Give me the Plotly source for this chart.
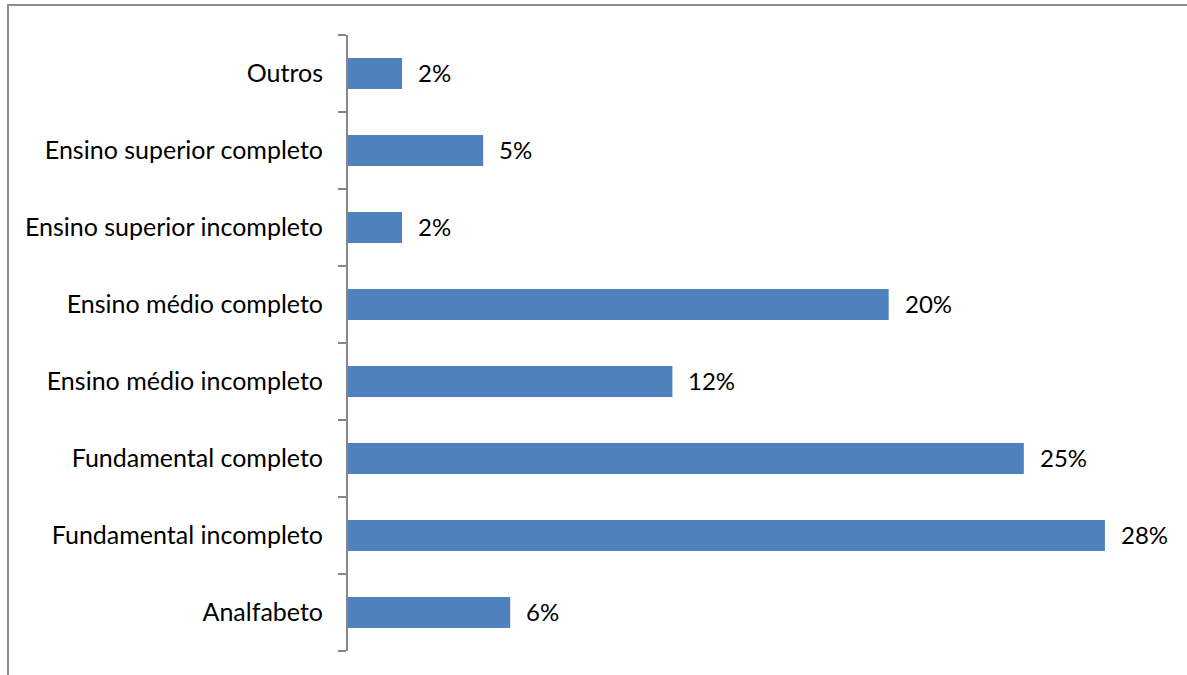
import plotly.graph_objects as go

# Escolaridade (de baixo para cima)
categorias = [
    "Analfabeto",
    "Fundamental incompleto",
    "Fundamental completo",
    "Ensino médio incompleto",
    "Ensino médio completo",
    "Ensino superior incompleto",
    "Ensino superior completo",
    "Outros",
]
percentuais = [6, 28, 25, 12, 20, 2, 5, 2]
rotulos = [f"{v}%" for v in percentuais]

FONT = "Lato"
AXIS_GRAY = "#868686"

fig = go.Figure(
    go.Bar(
        x=percentuais,
        y=categorias,
        orientation="h",
        marker=dict(color="#4F81BD", line=dict(width=0)),
        hoverinfo="skip",
    )
)

# Value labels to the right of each bar
for cat, val, txt in zip(categorias, percentuais, rotulos):
    fig.add_annotation(
        x=val, y=cat, text=txt, showarrow=False,
        xanchor="left", xshift=14, yshift=1,
        font=dict(family=FONT, size=24, color="#000000", weight=400),
    )

W, H = 1187, 675
L, R, T, B = 348, 28, 35, 24
pw, ph = W - L - R, H - T - B

# Outer frame of the chart
fig.add_shape(
    type="rect", xref="paper", yref="paper",
    x0=(8 - L) / pw, x1=(W + 5 - L) / pw,
    y0=-(B + 10) / ph, y1=1 + (T - 5) / ph,
    line=dict(color="#8c8c8c", width=2),
    fillcolor="rgba(0,0,0,0)", layer="below",
)

fig.update_layout(
    width=W, height=H,
    margin=dict(l=L, r=R, t=T, b=B, pad=0),
    paper_bgcolor="white", plot_bgcolor="white",
    bargap=0.6,
    showlegend=False,
    font=dict(family=FONT, size=25, color="#000000"),
    xaxis=dict(
        range=[0, 30], visible=False, showgrid=False, zeroline=False,
        fixedrange=True,
    ),
    yaxis=dict(
        type="category",
        categoryorder="array", categoryarray=categorias,
        showline=True, linecolor=AXIS_GRAY, linewidth=2,
        ticks="outside", tickson="boundaries", ticklen=8,
        tickcolor=AXIS_GRAY, tickwidth=2,
        ticklabelstandoff=18,
        showgrid=False, zeroline=False,
        tickfont=dict(family=FONT, size=25, color="#000000", weight=400),
        fixedrange=True,
    ),
)

fig.write_html("out.html")
